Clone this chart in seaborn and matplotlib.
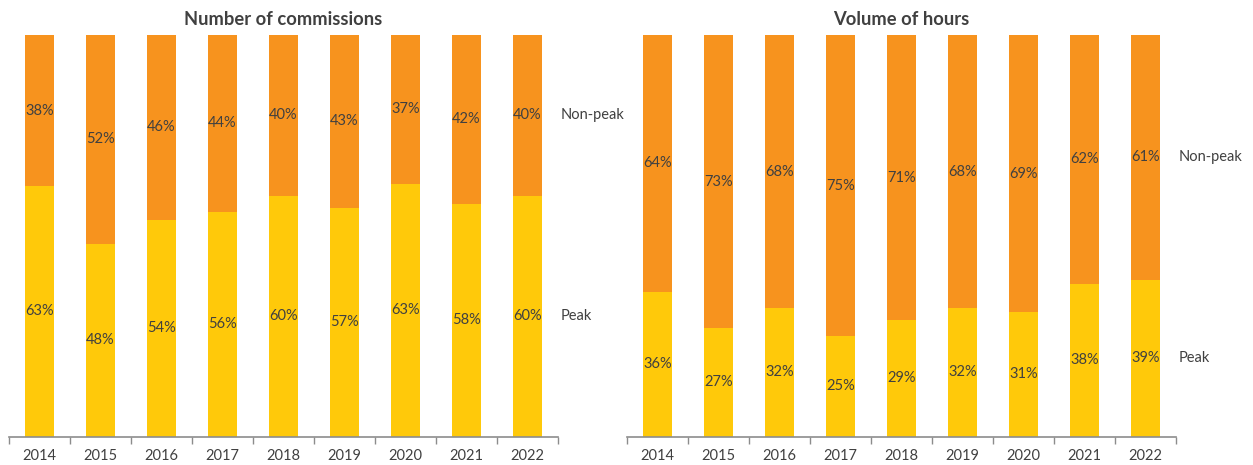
import matplotlib
matplotlib.use("Agg")
import matplotlib.pyplot as plt
import numpy as np
import pandas as pd
import seaborn as sns

# Data: share of peak vs non-peak, per year
years = ["2014", "2015", "2016", "2017", "2018", "2019", "2020", "2021", "2022"]
commissions_peak = [63, 48, 54, 56, 60, 57, 63, 58, 60]
commissions_nonpeak = [38, 52, 46, 44, 40, 43, 37, 42, 40]
hours_peak = [36, 27, 32, 25, 29, 32, 31, 38, 39]
hours_nonpeak = [64, 73, 68, 75, 71, 68, 69, 62, 61]
titles = ["Number of commissions", "Volume of hours"]
series_names = ["Peak", "Non-peak"]

PEAK_COLOR = "#FFC90A"
NONPEAK_COLOR = "#F7931E"
TEXT_COLOR = "#404040"
AXIS_COLOR = "#8C8C8C"
FS = 10.5

sns.set_theme(style="white")
plt.rcParams["font.family"] = ["Lato", "DejaVu Sans"]

fig = plt.figure(figsize=(12.53, 4.65), dpi=100)
W, H = 1253, 465
ax_bottom = (H - 436.5) / H
ax_height = (436.5 - 35) / H
axes = [
    fig.add_axes([9 / W, ax_bottom, 549 / W, ax_height]),
    fig.add_axes([627 / W, ax_bottom, 549 / W, ax_height]),
]

panels = [
    (commissions_peak, commissions_nonpeak),
    (hours_peak, hours_nonpeak),
]

for ax, title, (peak, nonpeak) in zip(axes, titles, panels):
    peak = np.array(peak, dtype=float)
    nonpeak = np.array(nonpeak, dtype=float)
    total = peak + nonpeak
    peak_share = peak / total
    df = pd.DataFrame({"year": years, "peak": peak_share, "total": np.ones(len(years))})

    sns.barplot(data=df, x="year", y="total", order=years, color=NONPEAK_COLOR,
                width=0.475, saturation=1, ax=ax, linewidth=0)
    sns.barplot(data=df, x="year", y="peak", order=years, color=PEAK_COLOR,
                width=0.475, saturation=1, ax=ax, linewidth=0)

    for i in range(len(years)):
        ax.text(i, peak_share[i] / 2, f"{int(peak[i])}%", ha="center", va="center",
                fontsize=FS, color=TEXT_COLOR)
        ax.text(i, peak_share[i] + (1 - peak_share[i]) / 2, f"{int(nonpeak[i])}%",
                ha="center", va="center", fontsize=FS, color=TEXT_COLOR)

    # series names beside the last bar
    last = len(years) - 1
    ax.text(last + 0.55, peak_share[last] / 2, series_names[0], ha="left", va="center",
            fontsize=FS, color=TEXT_COLOR, clip_on=False)
    ax.text(last + 0.55, peak_share[last] + (1 - peak_share[last]) / 2, series_names[1],
            ha="left", va="center", fontsize=FS, color=TEXT_COLOR, clip_on=False)

    ax.set_xlim(-0.5, len(years) - 0.5)
    ax.set_ylim(0, 1)
    ax.set_xlabel("")
    ax.set_ylabel("")
    ax.set_yticks([])
    ax.set_title(title, fontsize=13.2, fontweight="bold", color=TEXT_COLOR, pad=7)

    for side in ["top", "right", "left"]:
        ax.spines[side].set_visible(False)
    ax.spines["bottom"].set_color(AXIS_COLOR)
    ax.spines["bottom"].set_linewidth(1.2)

    ax.set_xticks(range(len(years)))
    ax.set_xticklabels(years)
    ax.set_xticks(np.arange(-0.5, len(years), 1.0), minor=True)
    ax.tick_params(axis="x", which="major", length=0, pad=9, labelsize=FS,
                   labelcolor=TEXT_COLOR)
    ax.tick_params(axis="x", which="minor", length=5, width=1, color=AXIS_COLOR,
                   direction="out", bottom=True)

fig.savefig("out.png", dpi=100)
